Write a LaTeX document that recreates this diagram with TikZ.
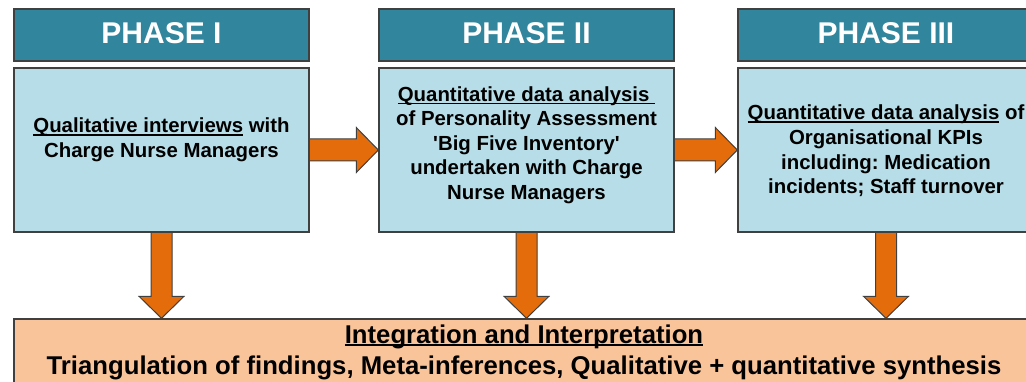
\documentclass[tikz,border=0pt]{standalone}
\usepackage{fontspec}
\setmainfont{Liberation Sans}
\usetikzlibrary{calc}
\frenchspacing
% underline drawn as a rule just under the baseline
\newcommand{\ulx}[2][1.3pt]{\setbox0\hbox{#2}\rlap{\rule[-2.8pt]{\wd0}{#1}}\box0\relax}
\definecolor{phasehead}{HTML}{31859C}
\definecolor{stagefill}{HTML}{B7DEE8}
\definecolor{arroworange}{HTML}{E46C0A}
\definecolor{synthfill}{HTML}{FAC49A}
\definecolor{edgegray}{HTML}{404040}
\begin{document}
\begin{tikzpicture}[x=1pt,y=-1pt,
  head/.style={draw=edgegray, line width=1.4pt, fill=phasehead, minimum width=295pt,
    minimum height=52pt, inner sep=0pt, text height=22pt, text depth=5pt,
    font=\fontsize{30}{36}\selectfont\bfseries, text=white},
  stagebox/.style={draw=edgegray, line width=1.4pt, fill=stagefill, minimum width=295pt,
    minimum height=164pt, inner sep=0pt},
  synthbox/.style={draw=edgegray, line width=1.4pt, fill=synthfill, minimum width=1020pt,
    minimum height=76pt, inner sep=0pt},
  body/.style={align=center, font=\fontsize{20.4}{24.6}\selectfont\bfseries\frenchspacing, text=black, inner sep=0pt},
  synthtext/.style={align=center, font=\fontsize{25.7}{31}\selectfont\bfseries\frenchspacing, text=black, inner sep=0pt},
  barrow/.style={fill=arroworange, draw=edgegray, line width=1pt, line join=miter},
]
\useasboundingbox (0,0) rectangle (1026,382);

% phase headers and stage boxes
\node[head] (h1) at (161.5,35) {PHASE I};
\node[head] (h2) at (526.5,35) {PHASE II};
\node[head, minimum width=296pt] (h3) at (886,35) {PHASE III};

\node[stagebox] (b1) at (161.5,150) {};
\node[stagebox] (b2) at (526.5,150) {};
\node[stagebox, minimum width=296pt] (b3) at (886,150) {};

% integration box along the bottom
\node[synthbox] (fin) at (524,357) {};

% block arrows between the phases
\draw[barrow] ($(b1.east)+(0,-11)$) -- ($(b2.west)+(-22,-11)$) -- ($(b2.west)+(-22,-22.5)$)
  -- (b2.west) -- ($(b2.west)+(-22,22.5)$) -- ($(b2.west)+(-22,11)$) -- ($(b1.east)+(0,11)$);
\draw[barrow] ($(b2.east)+(0,-11)$) -- ($(b3.west)+(-22,-11)$) -- ($(b3.west)+(-22,-22.5)$)
  -- (b3.west) -- ($(b3.west)+(-22,22.5)$) -- ($(b3.west)+(-22,11)$) -- ($(b2.east)+(0,11)$);

% block arrows down into the integration box
\foreach \b in {b1,b2,b3} {
  \coordinate (\b-tip) at (\b.south |- fin.north);
  \draw[barrow] ($(\b.south)+(-10.5,0)$) -- ($(\b-tip)+(-10.5,-22)$) -- ($(\b-tip)+(-22.5,-22)$)
    -- (\b-tip) -- ($(\b-tip)+(22.5,-22)$) -- ($(\b-tip)+(10.5,-22)$) -- ($(\b.south)+(10.5,0)$);
}

% redraw box outlines over the arrow ends
\draw[edgegray, line width=1.4pt] (b1.north west) rectangle (b1.south east);
\draw[edgegray, line width=1.4pt] (b2.north west) rectangle (b2.south east);
\draw[edgegray, line width=1.4pt] (b3.north west) rectangle (b3.south east);

% texts
\node[body] (t1) at (161.5,140) {\ulx{Qualitative interviews} with\\Charge Nurse Managers};
\node[body] (t2) at (526.5,145) {\ulx{Quantitative data analysis\ }\\of Personality Assessment\\
  \textquotesingle Big Five Inventory\textquotesingle\\undertaken with Charge\\Nurse Managers};
\node[body] (t3) at (886,151) {\ulx{Quantitative data analysis} of\\Organisational KPIs\\
  including: Medication\\incidents; Staff turnover};
\node[synthtext] (ft) at (524,352) {\ulx[1.6pt]{Integration and Interpretation}\\
  Triangulation of findings, Meta-inferences, Qualitative + quantitative synthesis};
\end{tikzpicture}
\end{document}
